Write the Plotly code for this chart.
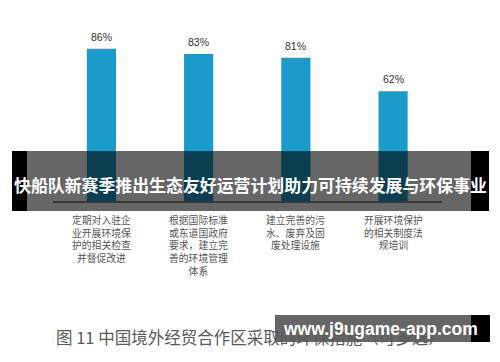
import plotly.graph_objects as go

W, H = 500, 362

# ---- data ----
categories = [
    "定期对入驻企<br>业开展环境保<br>护的相关检查<br>并督促改进",
    "根据国际标准<br>或东道国政府<br>要求，建立完<br>善的环境管理<br>体系",
    "建立完善的污<br>水、废弃及固<br>废处理设施",
    "开展环境保护<br>的相关制度法<br>规培训",
]
values = [86, 83, 81, 62]
value_labels = ["86%", "83%", "81%", "62%"]
banner_title = "快船队新赛季推出生态友好运营计划助力可持续发展与环保事业"
caption = "图 11 中国境外经贸合作区采取的环保措施（可多选）"
watermark = "www.j9ugame-app.com"

BAR_COLOR = "#1a9bc9"

def px_x(x):
    return x / W

def px_y(y):
    return 1 - y / H

x_idx = list(range(len(categories)))

fig = go.Figure()
fig.add_trace(go.Bar(
    x=x_idx, y=values, width=0.30,
    marker=dict(color=BAR_COLOR, line=dict(width=0)),
    hoverinfo="skip",
))

annotations = []
# value labels
for i, (v, t) in enumerate(zip(values, value_labels)):
    annotations.append(dict(
        x=i, y=v, xref="x", yref="y", text=t, showarrow=False,
        yanchor="bottom", yshift=4,
        font=dict(family="Liberation Sans, Arial", size=10.5, color="#333333"),
    ))

# category labels
for i, lab in enumerate(categories):
    annotations.append(dict(
        x=i, xref="x", y=px_y(211), yref="paper",
        text=lab, showarrow=False, yanchor="top", align="center",
        font=dict(family="Noto Sans CJK SC", size=9.8, color="#555555"),
    ))

# banner title
annotations.append(dict(
    x=px_x(250), y=px_y(184.5), xref="paper", yref="paper",
    text="<b>" + banner_title + "</b>", showarrow=False,
    xanchor="center", yanchor="middle",
    font=dict(family="Noto Sans CJK SC", size=16.9, color="white"),
))

# caption
annotations.append(dict(
    x=px_x(54), y=px_y(336.5), xref="paper", yref="paper",
    text=caption, showarrow=False, xanchor="left", yanchor="middle",
    font=dict(family="Noto Sans CJK SC", size=16.5, color="#5a5a5a"),
))

# watermark text
annotations.append(dict(
    x=px_x(380.5), y=px_y(329), xref="paper", yref="paper",
    text="<b>" + watermark + "</b>", showarrow=False,
    xanchor="center", yanchor="middle",
    font=dict(family="Liberation Sans, Arial", size=17.5, color="white"),
))

shapes = [
    # banner overlay
    dict(type="rect", xref="paper", yref="paper", layer="above",
         x0=px_x(12), x1=px_x(27), y0=px_y(211), y1=px_y(151),
         fillcolor="black", line=dict(width=0)),
    dict(type="rect", xref="paper", yref="paper", layer="above",
         x0=px_x(27), x1=px_x(471), y0=px_y(211), y1=px_y(151),
         fillcolor="rgba(0,0,0,0.6)", line=dict(width=0)),
    dict(type="rect", xref="paper", yref="paper", layer="above",
         x0=px_x(471), x1=px_x(489), y0=px_y(211), y1=px_y(151),
         fillcolor="black", line=dict(width=0)),
    # watermark overlay
    dict(type="rect", xref="paper", yref="paper", layer="above",
         x0=px_x(275), x1=px_x(471), y0=px_y(342), y1=px_y(315),
         fillcolor="rgba(0,0,0,0.6)", line=dict(width=0)),
    dict(type="rect", xref="paper", yref="paper", layer="above",
         x0=px_x(471), x1=px_x(490), y0=px_y(342), y1=px_y(315),
         fillcolor="black", line=dict(width=0)),
]

fig.update_layout(
    width=W, height=H,
    margin=dict(l=0, r=0, t=0, b=0),
    paper_bgcolor="white", plot_bgcolor="white",
    showlegend=False,
    xaxis=dict(domain=[px_x(52.8), px_x(441.7)], range=[-0.5, 3.5],
               showgrid=False, zeroline=False, showticklabels=False,
               ticks="", showline=True, linecolor="#8a8a8a", linewidth=1.5),
    yaxis=dict(domain=[px_y(201), px_y(24)], range=[0, 100],
               showgrid=False, zeroline=False, showticklabels=False,
               ticks="", showline=False),
    annotations=annotations,
    shapes=shapes,
)

fig.write_html(
    "out.html",
    config={"displayModeBar": False},
    post_script="document.body.style.margin='0';document.body.style.overflow='hidden';",
)
